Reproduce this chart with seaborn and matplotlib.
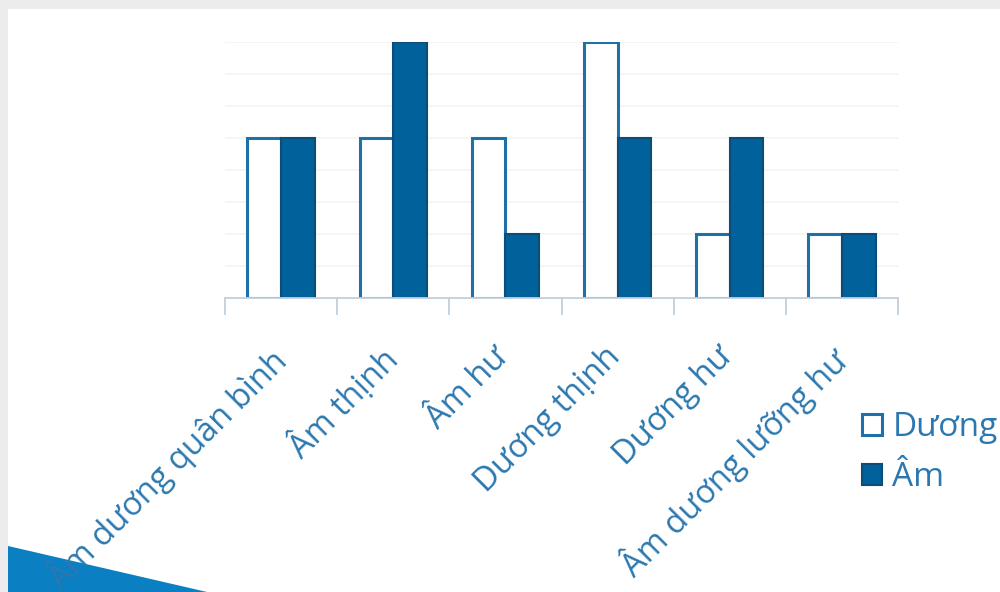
import matplotlib
matplotlib.use("Agg")
import matplotlib.pyplot as plt
import matplotlib.transforms as mtransforms
import seaborn as sns
import pandas as pd
import numpy as np
from matplotlib.patches import Rectangle, Polygon, Patch

categories = ["Âm dương quân bình", "Âm thịnh", "Âm hư", "Dương thịnh", "Dương hư", "Âm dương lưỡng hư"]
duong_values = [5, 5, 5, 8, 2, 2]
am_values = [5, 8, 2, 5, 5, 2]
series_names = ["Dương", "Âm"]

df = pd.DataFrame({
    "cat": categories * 2,
    "series": [series_names[0]] * len(categories) + [series_names[1]] * len(categories),
    "value": duong_values + am_values,
})

sns.set_theme(style="white")
plt.rcParams["font.family"] = ["Open Sans", "DejaVu Sans"]

W, H = 1000, 592
fig = plt.figure(figsize=(W / 100, H / 100), dpi=100)
fig.patch.set_facecolor("#ececec")
# white slide panel
fig.patches.append(Rectangle((8 / W, 0), 1 - 8 / W, 1 - 9 / H, transform=fig.transFigure,
                             facecolor="white", edgecolor="none", zorder=-2))
# decorative triangle bottom-left
fig.patches.append(Polygon([(8 / W, 0), (8 / W, 1 - 546 / H), (207 / W, 0)], closed=True,
                           transform=fig.transFigure, facecolor="#0a7fc2", edgecolor="none", zorder=-1))

ax = fig.add_axes([225 / W, 1 - 298 / H, (898 - 225) / W, (298 - 42) / H])
ax.set_facecolor("none")
ax.set_zorder(1)

label_color = "#2b78b0"
am_color = "#01619b"
am_edge = "#0c4d77"
duong_edge = "#1f6fa8"

sns.barplot(data=df, x="cat", y="value", hue="series", order=categories,
            hue_order=series_names, palette=["white", am_color], width=0.6,
            ax=ax, legend=False, saturation=1)

n = len(categories)
for i, p in enumerate(ax.patches[:2 * n]):
    if i < n:
        p.set_edgecolor(duong_edge)
        p.set_linewidth(2.2)
    else:
        p.set_edgecolor(am_edge)
        p.set_linewidth(1.5)

ax.set_ylim(0, 8)
ax.set_xlim(-0.5, n - 0.5)
ax.set_yticks(np.arange(0, 9, 1))
ax.yaxis.grid(True, color="#f4f4f4", linewidth=1.2)
ax.set_axisbelow(True)
ax.tick_params(axis="y", left=False, labelleft=False)
for s in ["top", "right", "left"]:
    ax.spines[s].set_visible(False)
ax.spines["bottom"].set_color("#c3cfdd")
ax.spines["bottom"].set_linewidth(1.3)

ax.set_xticks(np.arange(n))
ax.set_xticklabels(categories, rotation=45, ha="right", rotation_mode="anchor",
                   fontsize=23.5, color=label_color)
ax.tick_params(axis="x", which="major", length=0, pad=22)
offset = mtransforms.ScaledTranslation(-14 / 100, -12 / 100, fig.dpi_scale_trans)
for lbl in ax.get_xticklabels():
    lbl.set_transform(lbl.get_transform() + offset)
ax.set_xticks(np.arange(-0.5, n, 1), minor=True)
ax.tick_params(axis="x", which="minor", length=12, width=1.3, color="#c3cfdd", bottom=True)
ax.set_xlabel("")
ax.set_ylabel("")

# legend
handles = [Patch(facecolor="white", edgecolor=duong_edge, linewidth=2.2),
           Patch(facecolor=am_color, edgecolor=am_edge, linewidth=1.5)]
leg = fig.legend(handles, series_names, loc="upper left", bbox_to_anchor=(849 / W, 1 - 398 / H),
                 frameon=False, fontsize=24, handlelength=0.6, handleheight=0.6,
                 handletextpad=0.3, labelspacing=0.5, borderaxespad=0)
for t in leg.get_texts():
    t.set_color(label_color)

fig.savefig("out.png", dpi=100)
